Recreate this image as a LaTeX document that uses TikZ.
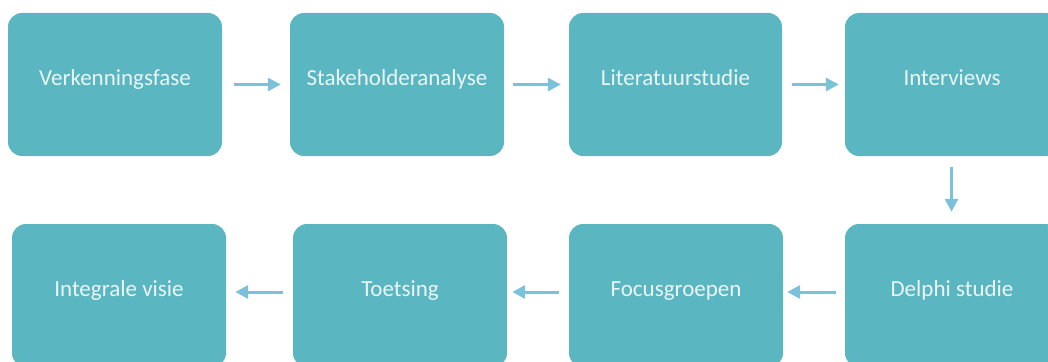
\documentclass[tikz,border=0pt]{standalone}
\usepackage{fontspec}
\setmainfont{Carlito}
\usetikzlibrary{arrows.meta}
\definecolor{boxfill}{RGB}{90,182,192}
\definecolor{boxtext}{RGB}{234,246,247}
\definecolor{arrowblue}{RGB}{124,193,220}

\begin{document}
\begin{tikzpicture}[
            x=1pt, y=-1pt,
            phase/.style={fill=boxfill, text=boxtext, rounded corners=14pt,
                minimum width=214pt, minimum height=143pt, inner sep=0pt,
                text height=12pt, text depth=10pt, font=\fontsize{23}{27}\selectfont},
            flow/.style={draw=arrowblue, line width=3pt,
                -{Triangle[length=13pt,width=13pt]},
                shorten <=10pt, shorten >=8pt}
        ]
            \useasboundingbox (0,0) rectangle (1048,361);
            \clip (0,0) rectangle (1048,361);

            % top row
            \node[phase] (verkenning) at (115,84.5) {Verkenningsfase};
            \node[phase] (stakeholder) at (397,84.5) {Stakeholderanalyse};
            \node[phase, minimum width=213pt] (literatuur) at (675.5,84.5) {Literatuurstudie};
            \node[phase] (interviews) at (952,84.5) {Interviews};

            % bottom row
            \node[phase] (delphi) at (952,295.5) {Delphi studie};
            \node[phase] (focus) at (676,295.5) {Focusgroepen};
            \node[phase] (toetsing) at (400,295.5) {Toetsing};
            \node[phase] (integraal) at (119,295.5) {Integrale visie};

            \draw[flow, shorten <=12pt, shorten >=9pt] (verkenning) -- (stakeholder);
            \draw[flow, shorten <=9pt] (stakeholder) -- (literatuur);
            \draw[flow, shorten >=6pt] (literatuur) -- (interviews.west);
            \draw[flow, shorten <=11pt, shorten >=12pt] ([xshift=-0.5pt]interviews.south) -- ([xshift=-0.5pt]delphi.north);
            \draw[flow, shorten <=9pt, shorten >=4pt] ([yshift=3.5pt]delphi.west) -- ([yshift=3.5pt]focus.east);
            \draw[flow, shorten >=5pt] ([yshift=3.5pt]focus.west) -- ([yshift=3.5pt]toetsing.east);
            \draw[flow, shorten >=9pt] ([yshift=3.5pt]toetsing.west) -- ([yshift=3.5pt]integraal.east);
        \end{tikzpicture}
\end{document}
